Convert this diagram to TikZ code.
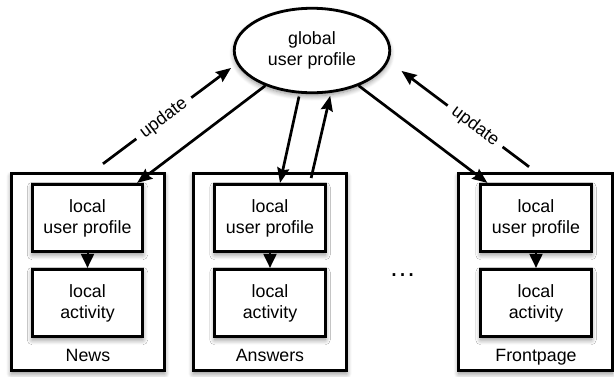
\documentclass[tikz,border=0pt]{standalone}
\usepackage{fontspec}
\setmainfont{Liberation Sans}
\usetikzlibrary{arrows.meta,shapes.geometric,shadows.blur}

\begin{document}
\begin{tikzpicture}[x=1pt,y=-1pt,
  lbl/.style={font=\fontsize{17.8}{21}\selectfont, align=center},
  soft/.style={blur shadow={shadow xshift=0pt, shadow yshift=-3pt,
      shadow blur radius=5pt, shadow blur steps=8, shadow opacity=45}},
  card/.style={draw, line width=3pt, fill=white, minimum width=153.5pt,
      minimum height=197.5pt, inner sep=0pt, soft},
  store/.style={draw, line width=2.7pt, fill=white, minimum width=110.5pt,
      minimum height=67.5pt, inner sep=0pt, lbl, soft},
  hub/.style={ellipse, draw, line width=2.8pt, fill=white, minimum width=155.5pt,
      minimum height=84.5pt, inner sep=0pt, lbl, soft},
  caption/.style={lbl, anchor=base},
  link/.style={line width=2.7pt, -{Stealth[length=15pt,width=12pt,inset=2pt]}},
  feed/.style={line width=2pt, -{Triangle[length=14pt,width=13pt]}},
  tag/.style={lbl, fill=white, inner xsep=7pt, inner ysep=2pt, sloped},
]
\useasboundingbox (0,0) rectangle (614,376);

% shared profile
\node[hub] (g) at (312,50.5) {global\\user profile};

% News
\node[card]  (nO) at (88,272) {};
\node[store] (nP) at (87.5,218) {local\\user profile};
\node[store] (nA) at (87.5,303) {local\\activity};
\node[caption] (nL) at (88,361) {News};

% Answers
\node[card]  (aO) at (270,272) {};
\node[store] (aP) at (270,218) {local\\user profile};
\node[store] (aA) at (270,303) {local\\activity};
\node[caption] (aL) at (270,361) {Answers};

% Frontpage
\node[card]  (fO) at (535.5,272) {};
\node[store] (fP) at (536,218) {local\\user profile};
\node[store] (fA) at (536,303) {local\\activity};
\node[caption] (fL) at (536,361) {Frontpage};

\node[font=\fontsize{27}{30}\selectfont, anchor=base] (more) at (402.5,276) {…};

% local profile feeds local activity
\draw[feed] (nP.south) -- (nA.north);
\draw[feed] (aP.south) -- (aA.north);
\draw[feed] (fP.south) -- (fA.north);

% profile exchange
\draw[link, shorten >=7pt] ([shift={(15,-8)}]nO.north) --
  node[tag, pos=0.455] {update} (g.190);
\draw[link] (g.217) -- ([xshift=-7pt]nP.north east);

\draw[link, shorten <=3pt] (g.254) -- ([xshift=10pt]aP.north);
\draw[link, shorten <=5pt, shorten >=3pt] ([xshift=40pt]aP.north) -- (g.294);

\draw[link] (g.323) -- ([xshift=8pt]fP.north west);
\draw[link, shorten >=16pt] ([shift={(-6.5,-5)}]fO.north) --
  node[tag, pos=0.384] {update} (g.352);
\end{tikzpicture}
\end{document}
